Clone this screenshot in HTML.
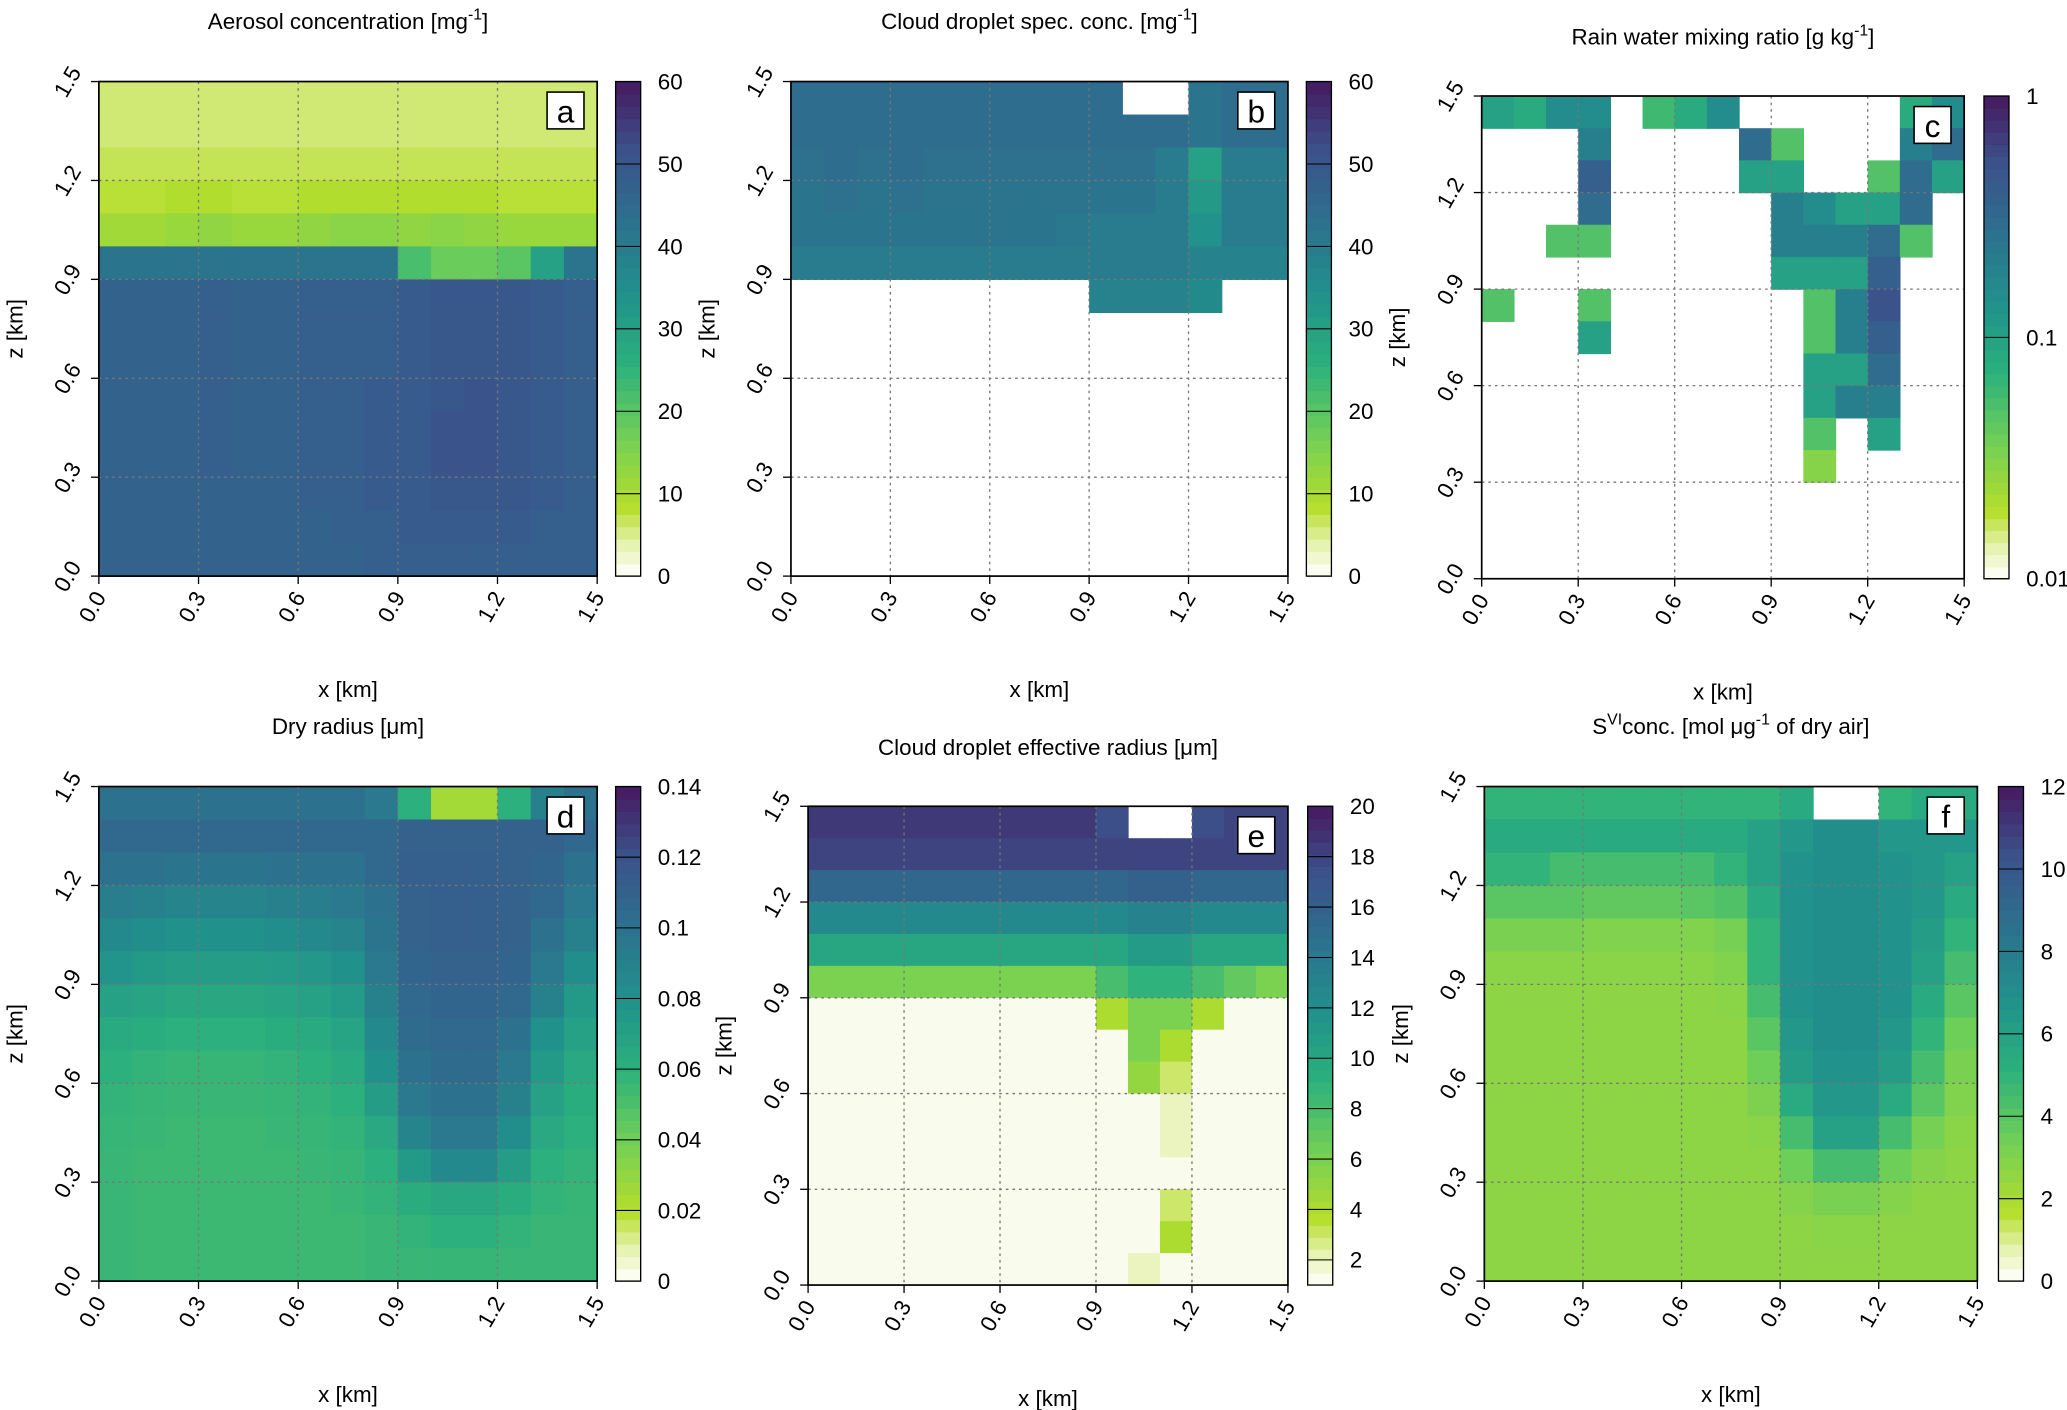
<!DOCTYPE html>
<html><head><meta charset="utf-8"><style>
html,body{margin:0;padding:0;background:#fff}
svg{display:block;font-family:"Liberation Sans",sans-serif}
</style></head><body>
<svg id="fig" width="2067" height="1410" viewBox="0 0 1568 1072" preserveAspectRatio="none" xmlns="http://www.w3.org/2000/svg"></svg>
<script>
const N = null;
const axisTicks = [0.0, 0.3, 0.6, 0.9, 1.2, 1.5];
const axisTickLabels = ["0.0","0.3","0.6","0.9","1.2","1.5"];
// rows top (z 1.4-1.5) to bottom (z 0.0-0.1); 15 columns x 0..1.5
const aValues = [
[6,6,6,6,6,6,6,6,6,6,6,6,6,6,6],
[6,6,6,6,6,6,6,6,6,6,6,6,6,6,6],
[7,7,7,7,7,7,7,7,7,7,7,7,7,7,7],
[8,8,9,9,8,8,9,9,9,9,9,9,8,8,8],
[11,11,12,13,12,12,13,14,14,13,14,13,12,12,12],
[42,42,42,42,42,42,42,42,42,22,18,18,20,30,42],
[47,47,47,48,47,47,48,48,48,49,50,50,50,49,48],
[47,47,47,48,47,47,48,48,48,49,50,50,50,49,48],
[47,47,47,48,47,47,48,48,48,49,50,50,50,49,48],
[47,47,47,48,47,47,48,48,49,49,50,51,50,49,48],
[47,47,47,48,47,47,48,48,49,49,51,51,50,49,48],
[47,47,47,48,47,47,48,48,49,49,51,51,50,49,48],
[47,47,47,47,47,47,48,48,49,49,50,50,50,49,48],
[47,47,47,47,47,47,47,48,48,49,49,49,49,48,48],
[47,47,47,47,47,47,47,47,48,48,48,48,48,48,48]];
const bValues = [
[44,44,44,44,44,44,44,44,44,44,N,N,42,44,44],
[44,44,44,44,44,44,44,44,44,44,44,44,42,44,44],
[43,44,43,44,43,43,43,43,43,43,43,40,30,40,40],
[42,43,42,43,42,42,42,42,42,42,42,40,32,40,40],
[42,42,42,42,42,42,42,42,41,40,40,40,34,40,40],
[40,40,40,40,40,40,40,40,40,40,40,40,38,38,38],
[N,N,N,N,N,N,N,N,N,38,38,38,36,N,N],
[N,N,N,N,N,N,N,N,N,N,N,N,N,N,N],
[N,N,N,N,N,N,N,N,N,N,N,N,N,N,N],
[N,N,N,N,N,N,N,N,N,N,N,N,N,N,N],
[N,N,N,N,N,N,N,N,N,N,N,N,N,N,N],
[N,N,N,N,N,N,N,N,N,N,N,N,N,N,N],
[N,N,N,N,N,N,N,N,N,N,N,N,N,N,N],
[N,N,N,N,N,N,N,N,N,N,N,N,N,N,N],
[N,N,N,N,N,N,N,N,N,N,N,N,N,N,N]];
const cValues = [
[0.1,0.08,0.15,0.15,N,0.06,0.08,0.15,N,N,N,N,N,0.08,0.15],
[N,N,N,0.2,N,N,N,N,0.3,0.05,N,N,N,0.2,0.3],
[N,N,N,0.4,N,N,N,N,0.1,0.1,N,N,0.05,0.3,0.1],
[N,N,N,0.3,N,N,N,N,N,0.2,0.15,0.1,0.1,0.3,N],
[N,N,0.05,0.05,N,N,N,N,N,0.2,0.2,0.2,0.3,0.05,N],
[N,N,N,N,N,N,N,N,N,0.1,0.1,0.1,0.4,N,N],
[0.05,N,N,0.05,N,N,N,N,N,N,0.05,0.2,0.5,N,N],
[N,N,N,0.1,N,N,N,N,N,N,0.05,0.2,0.4,N,N],
[N,N,N,N,N,N,N,N,N,N,0.1,0.1,0.3,N,N],
[N,N,N,N,N,N,N,N,N,N,0.1,0.2,0.2,N,N],
[N,N,N,N,N,N,N,N,N,N,0.05,N,0.1,N,N],
[N,N,N,N,N,N,N,N,N,N,0.03,N,N,N,N],
[N,N,N,N,N,N,N,N,N,N,N,N,N,N,N],
[N,N,N,N,N,N,N,N,N,N,N,N,N,N,N],
[N,N,N,N,N,N,N,N,N,N,N,N,N,N,N]];
const dValues = [
[0.1,0.1,0.1,0.1,0.1,0.1,0.1,0.1,0.095,0.06,0.025,0.025,0.06,0.09,0.1],
[0.105,0.105,0.105,0.105,0.105,0.105,0.105,0.105,0.105,0.11,0.11,0.11,0.11,0.11,0.105],
[0.1,0.1,0.098,0.098,0.098,0.1,0.1,0.1,0.105,0.112,0.112,0.112,0.11,0.108,0.1],
[0.092,0.09,0.088,0.088,0.088,0.09,0.092,0.095,0.1,0.11,0.112,0.112,0.11,0.105,0.095],
[0.085,0.082,0.08,0.08,0.08,0.082,0.085,0.088,0.098,0.11,0.112,0.112,0.11,0.1,0.09],
[0.078,0.075,0.072,0.072,0.072,0.074,0.076,0.08,0.095,0.108,0.11,0.11,0.108,0.095,0.082],
[0.07,0.068,0.066,0.066,0.066,0.068,0.07,0.074,0.09,0.106,0.108,0.108,0.105,0.09,0.075],
[0.064,0.062,0.06,0.06,0.06,0.062,0.064,0.068,0.085,0.104,0.106,0.106,0.1,0.08,0.07],
[0.06,0.058,0.057,0.057,0.057,0.058,0.06,0.064,0.08,0.1,0.104,0.104,0.095,0.075,0.065],
[0.058,0.057,0.056,0.056,0.056,0.057,0.058,0.06,0.072,0.095,0.1,0.1,0.09,0.07,0.062],
[0.057,0.056,0.055,0.055,0.055,0.056,0.057,0.058,0.065,0.088,0.095,0.095,0.082,0.065,0.06],
[0.056,0.055,0.055,0.055,0.055,0.055,0.056,0.057,0.06,0.075,0.085,0.085,0.072,0.06,0.058],
[0.056,0.055,0.055,0.055,0.055,0.055,0.055,0.056,0.058,0.062,0.066,0.066,0.062,0.058,0.057],
[0.056,0.055,0.055,0.055,0.055,0.055,0.055,0.055,0.056,0.058,0.06,0.06,0.058,0.056,0.056],
[0.056,0.055,0.055,0.055,0.055,0.055,0.055,0.055,0.056,0.056,0.057,0.057,0.056,0.056,0.056]];
const eValues = [
[18.5,18.5,18.5,18.5,18.5,18.5,18.5,18.5,18.5,17.5,N,N,17.5,18,18],
[18,18,18,18,18,18,18,18,18,18,18,18,18,18,18],
[15.5,15.5,15.5,15.5,15.5,15.5,15.5,15.5,15.5,15.5,16,16,15.5,15.5,15.5],
[12.5,12.5,12.5,12.5,12.5,12.5,12.5,12.5,12.5,12.5,13,13,12.5,12.5,12.5],
[10,10,10,10,10,10,10,10,10,10,11,11,10,10,10],
[6,6,6,6,6,6,6,6,6,8,9,9,8,7,6],
[1.3,1.3,1.3,1.3,1.3,1.3,1.3,1.3,1.3,4,6,6,4,1.3,1.3],
[1.3,1.3,1.3,1.3,1.3,1.3,1.3,1.3,1.3,1.3,6,4,1.3,1.3,1.3],
[1.3,1.3,1.3,1.3,1.3,1.3,1.3,1.3,1.3,1.3,5,3,1.3,1.3,1.3],
[1.3,1.3,1.3,1.3,1.3,1.3,1.3,1.3,1.3,1.3,1.3,2,1.3,1.3,1.3],
[1.3,1.3,1.3,1.3,1.3,1.3,1.3,1.3,1.3,1.3,1.3,2,1.3,1.3,1.3],
[1.3,1.3,1.3,1.3,1.3,1.3,1.3,1.3,1.3,1.3,1.3,1.3,1.3,1.3,1.3],
[1.3,1.3,1.3,1.3,1.3,1.3,1.3,1.3,1.3,1.3,1.3,3,1.3,1.3,1.3],
[1.3,1.3,1.3,1.3,1.3,1.3,1.3,1.3,1.3,1.3,1.3,4,1.3,1.3,1.3],
[1.3,1.3,1.3,1.3,1.3,1.3,1.3,1.3,1.3,1.3,2,1.3,1.3,1.3,1.3]];
const fValues = [
[5,5,5,5,5,5,5,5,5,5.5,N,N,5,5.5,5.5],
[5.5,5.5,5.5,5.5,5.5,5.5,5.5,5.5,6,6.5,7,7,6.5,6.5,6.5],
[5,5,4.5,4.5,4.5,4.5,4.5,5,6,6.8,7,7,6.8,6.5,6],
[4,4,4,3.8,3.8,3.8,4,4.2,5.5,6.8,7,7,6.8,6.5,5.5],
[3.2,3.2,3.2,3,3,3,3,3.3,5,6.8,7,7,6.8,6.2,5],
[2.8,2.8,2.8,2.8,2.8,2.8,2.8,3,5,6.8,7,7,6.8,6,4.5],
[2.7,2.7,2.7,2.7,2.7,2.7,2.7,2.8,4.5,6.8,7,7,6.8,5.5,4],
[2.7,2.7,2.7,2.7,2.7,2.7,2.7,2.7,4,6.5,7,7,6.5,5,3.5],
[2.7,2.7,2.7,2.7,2.7,2.7,2.7,2.7,3.5,6.2,6.8,6.8,6.2,4.5,3.2],
[2.7,2.7,2.7,2.7,2.7,2.7,2.7,2.7,3.1,5.5,6.5,6.5,5.5,4,3],
[2.7,2.7,2.7,2.7,2.7,2.7,2.7,2.7,2.8,4.5,6,6,4.5,3.3,2.8],
[2.7,2.7,2.7,2.7,2.7,2.7,2.7,2.7,2.7,3.5,4.5,4.5,3.5,2.9,2.7],
[2.7,2.7,2.7,2.7,2.7,2.7,2.7,2.7,2.7,2.9,3.2,3.2,2.9,2.7,2.7],
[2.7,2.7,2.7,2.7,2.7,2.7,2.7,2.7,2.7,2.7,2.8,2.8,2.7,2.7,2.7],
[2.7,2.7,2.7,2.7,2.7,2.7,2.7,2.7,2.7,2.7,2.7,2.7,2.7,2.7,2.7]];
const aCbTicks = [0,10,20,30,40,50,60];
const bCbTicks = [0,10,20,30,40,50,60];
const cCbTicks = [0.01,0.1,1];
const dCbTicks = [0,0.02,0.04,0.06,0.08,0.1,0.12,0.14];
const dCbLabels = ["0","0.02","0.04","0.06","0.08","0.1","0.12","0.14"];
const eCbTicks = [2,4,6,8,10,12,14,16,18,20];
const fCbTicks = [0,2,4,6,8,10,12];

const stops=[[0,[255,255,255]],[0.07,[228,241,170]],[0.14,[181,222,43]],[0.29,[110,206,88]],[0.43,[43,176,125]],[0.57,[33,145,140]],[0.71,[44,114,142]],[0.86,[59,82,139]],[1,[70,25,95]]];
function cmap(t){t=Math.max(0,Math.min(1,t));for(let i=1;i<stops.length;i++){if(t<=stops[i][0]){const a=stops[i-1],b=stops[i];const f=(t-a[0])/(b[0]-a[0]);const c=a[1].map((v,k)=>Math.round(v+(b[1][k]-v)*f));return `rgb(${c.join(',')})`;}}return 'rgb(70,25,95)';}
const svg=document.getElementById('fig');const NS='http://www.w3.org/2000/svg';
function el(tag,attrs,parent,txt){const e=document.createElementNS(NS,tag);for(const k in attrs)e.setAttribute(k,attrs[k]);if(txt!==undefined)e.textContent=txt;(parent||svg).appendChild(e);return e;}

function panel(p){
  const g=el('g',{});
  
  
  const X=v=>p.x0+v/1.5*(p.x1-p.x0), Y=v=>p.y1-v/1.5*(p.y1-p.y0);
  const norm=v=>p.log?(Math.log10(v)-Math.log10(p.vmin))/(Math.log10(p.vmax)-Math.log10(p.vmin)):(v-p.vmin)/(p.vmax-p.vmin);
  const rows=p.data.length, cols=p.data[0].length;
  const hm=el('g',{},g);
  
  
  p.data.forEach((row,ri)=>row.forEach((v,ci)=>{
    if(v===null)return;
    const xa=X(ci*1.5/cols),xb=X((ci+1)*1.5/cols);
    const ya=Y(1.5-ri*1.5/rows),yb=Y(1.5-(ri+1)*1.5/rows);
    const r=el('rect',{x:xa,y:ya,width:xb-xa+0.5,height:yb-ya+0.5,fill:cmap(norm(v))},hm);
    
    
  }));
  [0.3,0.6,0.9,1.2].forEach(t=>{
    el('line',{x1:X(t),x2:X(t),y1:p.y0,y2:p.y1,stroke:'#777','stroke-dasharray':'2,3','stroke-width':1},g);
    el('line',{x1:p.x0,x2:p.x1,y1:Y(t),y2:Y(t),stroke:'#777','stroke-dasharray':'2,3','stroke-width':1},g);
  });
  el('rect',{x:p.x0,y:p.y0,width:p.x1-p.x0,height:p.y1-p.y0,fill:'none',stroke:'#000','stroke-width':1.3},g);
  axisTicks.forEach((t,i)=>{
    el('line',{x1:X(t),x2:X(t),y1:p.y1,y2:p.y1+6,stroke:'#000'},g);
    const xl=el('text',{x:X(t)+6,y:p.y1+16,'font-size':17,'text-anchor':'end',transform:`rotate(-60 ${X(t)+6} ${p.y1+16})`},g,axisTickLabels[i]);
    
    
    el('line',{x1:p.x0-6,x2:p.x0,y1:Y(t),y2:Y(t),stroke:'#000'},g);
    const yl=el('text',{x:p.x0-24,y:Y(t)+6,'font-size':17,'text-anchor':'middle',transform:`rotate(-60 ${p.x0-24} ${Y(t)})`},g,axisTickLabels[i]);
    
    
  });
  const xt=el('text',{x:(p.x0+p.x1)/2,y:p.y1+92,'font-size':17,'text-anchor':'middle'},g,'x [km]');
  
  
  const yc=(p.y0+p.y1)/2;
  const yt=el('text',{x:p.x0-58,y:yc,'font-size':17,'text-anchor':'middle',transform:`rotate(-90 ${p.x0-58} ${yc})`},g,'z [km]');
  
  
  const tt=el('text',{x:(p.x0+p.x1)/2,y:p.ty,'font-size':17,'text-anchor':'middle'},g);
  tt.innerHTML=p.title;
  
  
  el('rect',{x:p.x1-38,y:p.y0+8,width:28,height:28,fill:'#fff',stroke:'#000','stroke-width':1.2},g);
  el('text',{x:p.x1-24,y:p.y0+31,'font-size':24,'text-anchor':'middle'},g,p.letter);
  const cb=el('g',{},g);
  
  
  const n=40,ch=(p.y1-p.y0)/n;
  for(let i=0;i<n;i++)el('rect',{x:p.cx,y:p.y1-(i+1)*ch,width:19,height:ch+0.5,fill:cmap((i+0.5)/n)},cb);
  el('rect',{x:p.cx,y:p.y0,width:19,height:p.y1-p.y0,fill:'none',stroke:'#000'},cb);
  p.cbTicks.forEach((t,i)=>{
    const yy=p.y1-norm(t)*(p.y1-p.y0);
    el('line',{x1:p.cx,x2:p.cx+19,y1:yy,y2:yy,stroke:'#000','stroke-width':0.8},cb);
    const lab=el('text',{x:p.cx+32,y:yy+6,'font-size':17},cb,p.cbLabels?p.cbLabels[i]:String(t));
    
    
  });
}
panel({letter:'a',data:aValues,x0:75,x1:453,y0:62,y1:438,cx:467,vmin:0,vmax:60,cbTicks:aCbTicks,ty:22,title:'Aerosol concentration [mg<tspan dy="-7" font-size="12">-1</tspan><tspan dy="7">]</tspan>'});
panel({letter:'b',data:bValues,x0:600,x1:977,y0:62,y1:438,cx:991,vmin:0,vmax:60,cbTicks:bCbTicks,ty:22,title:'Cloud droplet spec. conc. [mg<tspan dy="-7" font-size="12">-1</tspan><tspan dy="7">]</tspan>'});
panel({letter:'c',data:cValues,x0:1124,x1:1490,y0:73,y1:440,cx:1505,vmin:0.01,vmax:1,log:true,cbTicks:cCbTicks,ty:34,title:'Rain water mixing ratio [g kg<tspan dy="-7" font-size="12">-1</tspan><tspan dy="7">]</tspan>'});
panel({letter:'d',data:dValues,x0:75,x1:453,y0:598,y1:974,cx:467,vmin:0,vmax:0.14,cbTicks:dCbTicks,cbLabels:dCbLabels,ty:558,title:'Dry radius [μm]'});
panel({letter:'e',data:eValues,x0:613,x1:977,y0:613,y1:977,cx:992,vmin:1,vmax:20,cbTicks:eCbTicks,ty:574,title:'Cloud droplet effective radius [μm]'});
panel({letter:'f',data:fValues,x0:1126,x1:1500,y0:598,y1:974,cx:1516,vmin:0,vmax:12,cbTicks:fCbTicks,ty:558,title:'S<tspan dy="-7" font-size="12">VI</tspan><tspan dy="7">conc. [mol  μg</tspan><tspan dy="-7" font-size="12">-1</tspan><tspan dy="7"> of dry air]</tspan>'});
</script>
</body></html>
